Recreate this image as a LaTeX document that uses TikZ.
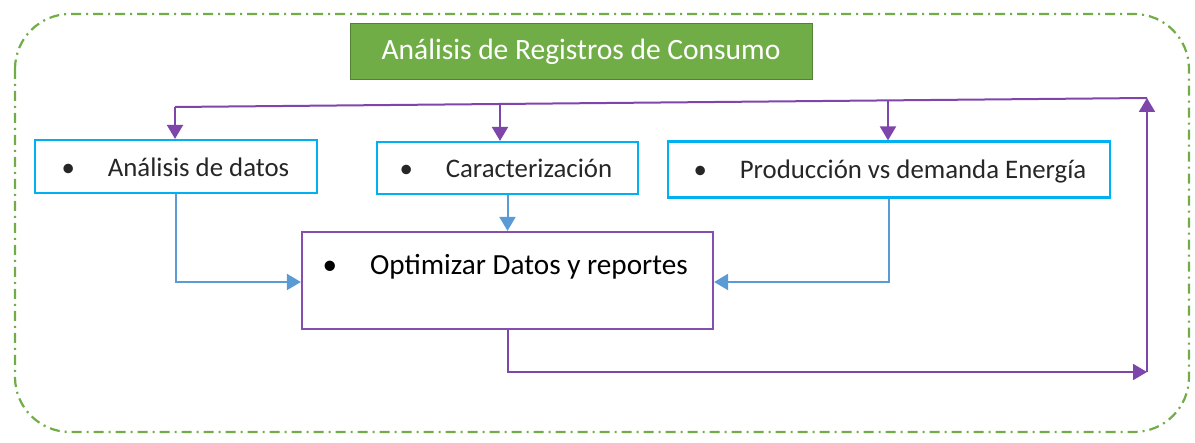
\documentclass[tikz,border=0pt]{standalone}
\usepackage{fontspec}
\setmainfont{Carlito}
\usetikzlibrary{arrows.meta,calc}
\definecolor{cgreen}{HTML}{70AD47}
\definecolor{cgreendk}{HTML}{548235}
\definecolor{ccyan}{HTML}{00B0F0}
\definecolor{cblue}{HTML}{5B9BD5}
\definecolor{cpurple}{HTML}{7030A0}
\tikzset{
  box/.style={draw=ccyan, line width=2.2pt, inner xsep=0pt, inner ysep=0pt},
  btext/.style={anchor=base west, font=\fontsize{26.8}{32}\selectfont, text=black!85},
  optbox/.style={draw=cpurple!85, line width=2.2pt, inner sep=0pt},
  barrow/.style={draw=cblue, line width=2pt, -{Triangle[length=14pt,width=16pt]}},
  parrow/.style={draw=cpurple!90, line width=2pt, -{Triangle[length=14pt,width=16pt]}},
  pline/.style={draw=cpurple!90, line width=2pt},
  outer/.style={draw=cgreen, line width=2.2pt, dash pattern=on 10pt off 5pt on 2pt off 5pt, rounded corners=55pt},
}
\begin{document}
\begin{tikzpicture}[x=1pt,y=-1pt]
\useasboundingbox (0,0) rectangle (1195,443);
\draw[outer] (15,14) rectangle (1189,432);
\node[fill=cgreen, draw=cgreendk, line width=1pt, minimum width=462pt, minimum height=56pt, inner sep=0pt, text=white, font=\fontsize{29.5}{34}\selectfont] (title) at (581,52) {Análisis de Registros de Consumo};
% boxes
\node[box, minimum width=282pt, minimum height=53pt] (a) at (176,166.5) {};
\node[btext] at (58,177) {\textbullet\hspace{33pt}Análisis de datos};
\node[box, minimum width=261pt, minimum height=52pt] (b) at (507.5,168) {};
\node[btext] at (396,178) {\textbullet\hspace{33pt}Caracterización};
\node[box, minimum width=442pt, minimum height=56pt] (c) at (889,169.5) {};
\node[btext] at (690,179) {\textbullet\hspace{33pt}Producción vs demanda Energía};
\node[optbox, minimum width=411pt, minimum height=97pt] (o) at (507.5,280.5) {};
\node[anchor=base west, font=\fontsize{29.2}{34}\selectfont, text=black] at (319,275) {\textbullet\hspace{33pt}Optimizar Datos y reportes};
% blue connectors
\draw[barrow] (a.south) |- (o.west |- 0,282);
\draw[barrow] (b.south) -- (o.north);
\draw[barrow] (c.south) |- (o.east |- 0,282);
% purple loop
\coordinate (br) at (1147,372);
\coordinate (tr) at (1147,98);
\coordinate (tl) at (175,107);
\coordinate (m1) at (500,104);
\coordinate (m2) at (888,100.4);
\draw[parrow] (o.south) |- (br);
\draw[parrow] (br) -- (tr);
\draw[pline] (tr) -- (tl);
\draw[parrow] (tl) -- (tl |- a.north);
\draw[parrow] (m1) -- (m1 |- b.north);
\draw[parrow] (m2) -- (m2 |- c.north);
\end{tikzpicture}
\end{document}
